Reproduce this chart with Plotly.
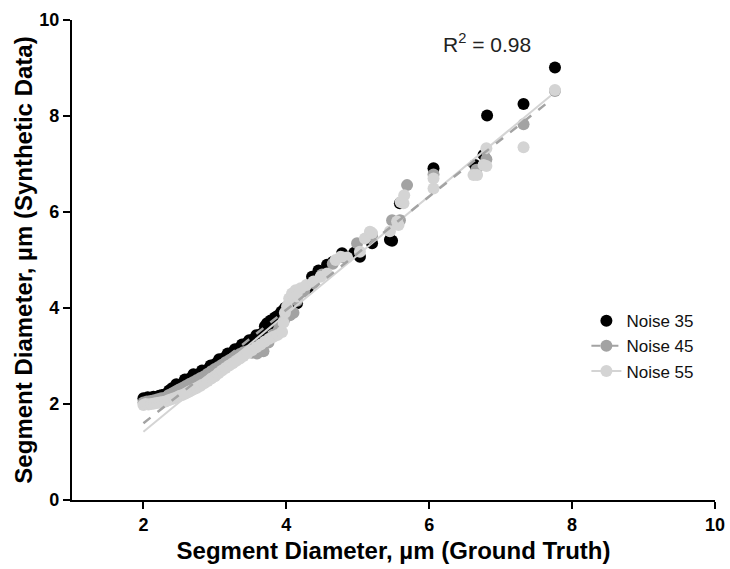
import plotly.graph_objects as go

# ---------------- data ----------------
n35_x = [2.00, 2.03, 2.06, 2.10, 2.14, 2.18, 2.22, 2.26, 2.30, 2.33, 2.36, 2.40, 2.44, 2.48,
         2.52, 2.56, 2.60, 2.64, 2.68, 2.72, 2.76, 2.80, 2.84, 2.88, 2.92, 2.96, 3.00, 3.04,
         3.08, 3.12, 3.16, 3.20, 3.25, 3.30, 3.35, 3.40, 3.45, 3.50, 3.55, 3.60, 3.66, 3.70,
         3.73, 3.78, 3.84, 3.88, 3.93, 3.98, 4.03, 4.10, 4.15, 4.30, 4.36, 4.45, 4.57, 4.65,
         4.78, 4.95, 5.03, 5.20, 5.45, 5.48, 5.59, 5.62, 6.06, 6.64, 6.76, 6.81, 7.32, 7.76,
         2.46, 2.58, 2.70, 2.82, 2.94, 3.06, 3.18, 3.28, 3.38, 3.48, 3.58, 3.76, 3.86]
n35_y = [2.12, 2.10, 2.14, 2.13, 2.15, 2.14, 2.17, 2.19, 2.20, 2.16, 2.28, 2.33, 2.35, 2.38,
         2.40, 2.44, 2.48, 2.52, 2.55, 2.58, 2.60, 2.64, 2.66, 2.70, 2.74, 2.78, 2.83, 2.87,
         2.92, 2.95, 2.99, 3.02, 3.08, 3.12, 3.17, 3.22, 3.27, 3.30, 3.36, 3.42, 3.47, 3.62,
         3.68, 3.74, 3.80, 3.84, 3.92, 4.00, 4.06, 4.12, 4.10, 4.40, 4.65, 4.78, 4.90, 4.96,
         5.14, 5.15, 5.07, 5.35, 5.42, 5.40, 6.18, 6.21, 6.91, 6.98, 7.19, 8.01, 8.25, 9.01,
         2.41, 2.51, 2.62, 2.70, 2.80, 2.93, 3.05, 3.14, 3.24, 3.33, 3.43, 3.66, 3.78]

n45_x = [2.00, 2.05, 2.10, 2.15, 2.20, 2.25, 2.30, 2.35, 2.40, 2.45, 2.50, 2.55, 2.60, 2.65,
         2.70, 2.75, 2.80, 2.85, 2.90, 2.95, 3.00, 3.05, 3.10, 3.15, 3.20, 3.25, 3.30, 3.35,
         3.40, 3.45, 3.52, 3.59, 3.68, 3.75, 3.82, 3.90, 3.97, 4.05, 4.10, 4.15, 4.25, 4.38,
         4.50, 4.65, 4.80, 4.99, 5.20, 5.48, 5.59, 5.69, 6.06, 6.66, 6.80, 7.32, 7.76]
n45_y = [2.03, 2.05, 2.06, 2.08, 2.10, 2.12, 2.13, 2.18, 2.22, 2.26, 2.30, 2.34, 2.38, 2.42,
         2.46, 2.50, 2.54, 2.58, 2.63, 2.68, 2.73, 2.77, 2.82, 2.87, 2.91, 2.95, 3.00, 3.04,
         3.08, 3.10, 3.07, 3.05, 3.10, 3.28, 3.45, 3.58, 3.75, 3.85, 3.90, 4.15, 4.35, 4.52,
         4.70, 4.92, 5.05, 5.35, 5.50, 5.83, 5.83, 6.56, 6.78, 6.88, 7.10, 7.83, 8.52]

n55_x = [2.00, 2.03, 2.07, 2.11, 2.15, 2.19, 2.23, 2.27, 2.31, 2.35, 2.39, 2.43, 2.47, 2.51,
         2.55, 2.59, 2.63, 2.67, 2.71, 2.75, 2.80, 2.85, 2.90, 2.95, 3.00, 3.05, 3.10, 3.15,
         3.20, 3.25, 3.30, 3.35, 3.40, 3.46, 3.52, 3.58, 3.64, 3.70, 3.76, 3.82, 3.88, 3.94,
         3.96, 3.98, 4.01, 4.04, 4.08, 4.13, 4.15, 4.20, 4.28, 4.38, 4.48, 4.57, 4.69, 4.76,
         4.85, 5.03, 5.10, 5.17, 5.20, 5.45, 5.55, 5.57, 5.60, 5.64, 5.65, 6.06, 6.06, 6.62,
         6.67, 6.76, 6.80, 6.80, 7.32, 7.76]
n55_y = [1.98, 2.00, 1.99, 2.00, 2.01, 2.02, 2.03, 2.04, 2.05, 2.08, 2.10, 2.12, 2.14, 2.17,
         2.19, 2.22, 2.25, 2.28, 2.31, 2.34, 2.38, 2.43, 2.48, 2.53, 2.58, 2.64, 2.70, 2.75,
         2.80, 2.85, 2.90, 2.95, 3.00, 3.06, 3.12, 3.18, 3.24, 3.30, 3.36, 3.40, 3.44, 3.50,
         3.70, 3.90, 4.03, 4.20, 4.30, 4.37, 4.24, 4.41, 4.48, 4.55, 4.65, 4.72, 5.00, 5.07,
         5.05, 5.17, 5.45, 5.59, 5.56, 5.60, 5.80, 5.73, 6.21, 6.18, 6.35, 6.49, 6.70, 6.77,
         6.77, 6.98, 6.96, 7.33, 7.35, 8.54]

fit_x = [2.0, 7.7]
fit45_y = [1.60, 8.33]
fit55_y = [1.42, 8.42]

names = ["Noise 35", "Noise 45", "Noise 55"]
r2_text = "R<sup>2</sup> = 0.98"

x_ticks = [2, 4, 6, 8, 10]
y_ticks = [0, 2, 4, 6, 8, 10]

# ---------------- style ----------------
C35, C45, C55 = "#000000", "#a3a3a3", "#d4d4d4"
MS = 12
FONT = "Liberation Sans, Arial, sans-serif"

fig = go.Figure()

fig.add_trace(go.Scatter(x=n35_x, y=n35_y, mode="markers", showlegend=False,
                         marker=dict(size=MS, color=C35, line=dict(width=0))))
fig.add_trace(go.Scatter(x=n45_x, y=n45_y, mode="markers", showlegend=False,
                         marker=dict(size=MS, color=C45, line=dict(width=0))))
fig.add_trace(go.Scatter(x=n55_x, y=n55_y, mode="markers", showlegend=False,
                         marker=dict(size=MS, color=C55, line=dict(width=0))))

fig.add_trace(go.Scatter(x=fit_x, y=fit55_y, mode="lines", showlegend=False,
                         line=dict(color=C55, width=2)))
fig.add_trace(go.Scatter(x=fit_x, y=fit45_y, mode="lines", showlegend=False,
                         line=dict(color=C45, width=2.5, dash="dash")))

fig.add_trace(go.Scatter(x=[None], y=[None], mode="markers", name=names[0],
                         marker=dict(size=MS, color=C35)))
fig.add_trace(go.Scatter(x=[None], y=[None], mode="lines+markers", name=names[1],
                         marker=dict(size=MS, color=C45),
                         line=dict(color=C45, width=2, dash="dash")))
fig.add_trace(go.Scatter(x=[None], y=[None], mode="lines+markers", name=names[2],
                         marker=dict(size=MS, color=C55),
                         line=dict(color=C55, width=2)))

fig.add_annotation(x=6.81, y=9.52, text=r2_text, showarrow=False,
                   font=dict(family=FONT, size=21, color="#222222"))

axis_common = dict(showline=True, linecolor="black", linewidth=2.2, ticks="outside",
                   ticklen=7, tickwidth=2.2, tickcolor="black", showgrid=False, zeroline=False,
                   tickfont=dict(family=FONT, size=18, color="black", weight="bold"),
                   mirror=False, automargin=False, ticklabeloverflow="allow")

fig.update_xaxes(range=[1, 10], tickvals=x_ticks, ticktext=[str(v) for v in x_ticks],
                 title=dict(text="Segment Diameter, µm (Ground Truth)",
                            font=dict(family=FONT, size=24, color="black", weight="bold"),
                            standoff=8),
                 **axis_common)
fig.update_yaxes(range=[0, 10], tickvals=y_ticks, ticktext=[str(v) for v in y_ticks],
                 title=dict(text="Segment Diameter, µm (Synthetic Data)",
                            font=dict(family=FONT, size=24, color="black", weight="bold"),
                            standoff=0),
                 **axis_common)

fig.update_layout(
    width=730, height=569,
    margin=dict(l=72, r=15, t=20, b=69, pad=0),
    plot_bgcolor="white", paper_bgcolor="white",
    legend=dict(x=0.80, y=0.41, xanchor="left", yanchor="top",
                font=dict(family=FONT, size=17, color="#111111"),
                bgcolor="rgba(0,0,0,0)", itemwidth=30),
    font=dict(family=FONT),
)

# remove the page's default 8px body margin so the figure fills the window exactly
fig.write_html("out.html", config={"displayModeBar": False},
               post_script="document.body.style.margin='0';document.body.style.overflow='hidden';")
